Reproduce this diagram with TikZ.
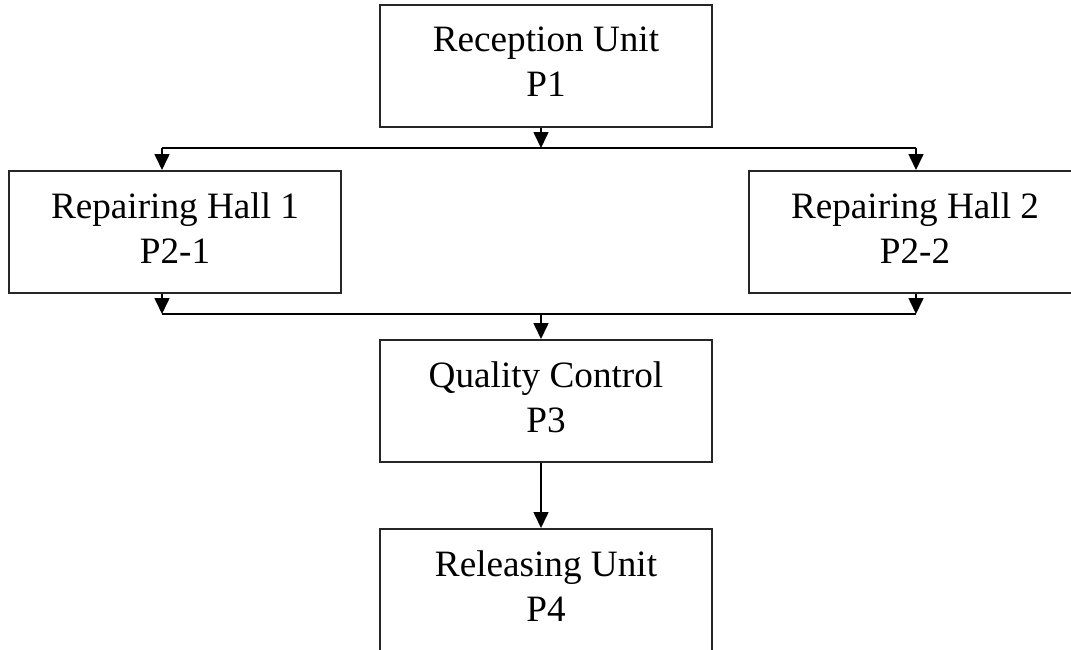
\documentclass[tikz,border=0pt]{standalone}
\usepackage{fontspec}
\setmainfont{Liberation Serif}
\usetikzlibrary{arrows.meta}
\begin{document}
\begin{tikzpicture}[x=0.5pt,y=-0.5pt,
  box/.style={draw=black!85, line width=1pt, minimum width=166pt, minimum height=61pt,
    inner sep=0pt, align=center, font=\fontsize{18.6}{22.5}\selectfont},
  conn/.style={line width=0.8pt, black},
  arr/.style={conn, -{Triangle[width=7.5pt,length=8pt]}}]
\useasboundingbox (0,0) rectangle (1071,649);
\clip (0,0) rectangle (1071,649);
\node[box] (p1) at (546,66) {Reception Unit\\P1\rule[-4pt]{0pt}{4pt}};
\node[box] (p21) at (175,232) {Repairing Hall 1\\P2-1\rule[-4pt]{0pt}{4pt}};
\node[box] (p22) at (915,232) {Repairing Hall 2\\P2-2\rule[-4pt]{0pt}{4pt}};
\node[box] (p3) at (546,401) {Quality Control\\P3\rule[-4pt]{0pt}{4pt}};
\node[box] (p4) at (546,590) {Releasing Unit\\P4\rule[-4pt]{0pt}{4pt}};
\coordinate (jt) at (541,148);
\coordinate (tl) at (162,148);
\coordinate (tr) at (916,148);
\coordinate (bl) at (162,314);
\coordinate (br) at (916,314);
\coordinate (jb) at (541,314);
\draw[arr] (p1.south -| jt) -- (jt);
\draw[conn] (tl) -- (tr);
\draw[arr] (tl) -- (p21.north -| tl);
\draw[arr] (tr) -- (p22.north -| tr);
\draw[arr] (p21.south -| bl) -- (bl);
\draw[arr] (p22.south -| br) -- (br);
\draw[conn] (bl) -- (br);
\draw[arr] (jb) -- (p3.north -| jb);
\draw[arr] (p3.south -| jb) -- (p4.north -| jb);
\end{tikzpicture}
\end{document}
